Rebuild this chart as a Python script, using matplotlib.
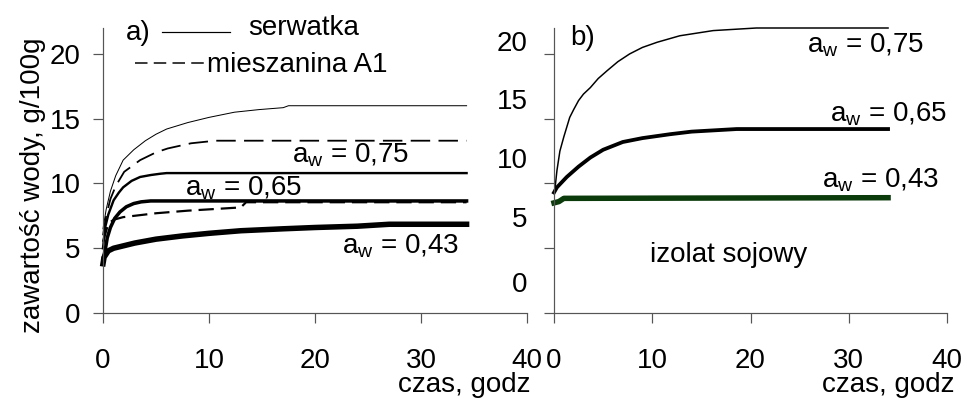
import matplotlib
matplotlib.use('Agg')
import matplotlib.pyplot as plt
from matplotlib.lines import Line2D

plt.rcParams['font.family'] = ['Liberation Sans', 'DejaVu Sans']
plt.rcParams['mathtext.fontset'] = 'custom'
plt.rcParams['mathtext.rm'] = 'Liberation Sans'
plt.rcParams['mathtext.it'] = 'Liberation Sans:italic'
plt.rcParams['lines.scale_dashes'] = False

# ---------------- data (panel a) ----------------
t_whey_075 = [0, 0.3, 0.7, 1.2, 1.9, 2.9, 4, 5, 6, 8, 10, 12.4, 14.7, 17, 17.5, 34.3]
v_whey_075 = [6.5, 8.0, 9.4, 10.6, 11.8, 12.6, 13.3, 13.8, 14.2, 14.7, 15.1, 15.5, 15.7, 15.85, 16.0, 16.0]

t_a1_075 = [0, 0.3, 0.7, 1.2, 2, 3.5, 5, 6.1, 8.3, 10.6, 34.3]
v_a1_075 = [6.0, 7.5, 8.8, 9.8, 10.9, 11.8, 12.4, 12.7, 13.1, 13.3, 13.3]

t_whey_065 = [0, 0.2, 0.5, 1, 1.5, 1.9, 2.7, 3.5, 4.5, 5.4, 6, 34.3]
v_whey_065 = [5.0, 6.6, 7.6, 8.7, 9.3, 9.7, 10.2, 10.5, 10.65, 10.75, 10.8, 10.8]

t_whey_043 = [0, 0.2, 0.4, 0.7, 1.1, 1.6, 2.2, 2.9, 3.6, 4.5, 34.3]
v_whey_043 = [4.2, 4.8, 5.8, 6.6, 7.3, 7.8, 8.2, 8.45, 8.58, 8.65, 8.65]

t_a1_065 = [0, 0.5, 1.0, 1.9, 5, 8, 13, 13.5, 34.3]
v_a1_065 = [5.5, 6.9, 7.2, 7.4, 7.7, 7.9, 8.15, 8.55, 8.55]

t_a1_043 = [0, 0.1, 0.5, 1, 2, 3, 5, 7.5, 10, 13, 17, 20, 24, 27, 34.3]
v_a1_043 = [3.8, 4.3, 4.8, 5.0, 5.2, 5.4, 5.7, 5.95, 6.15, 6.35, 6.5, 6.6, 6.7, 6.85, 6.85]

# ---------------- data (panel b) ----------------
t_soy_075 = [0, 0.1, 0.3, 0.6, 1.0, 1.6, 2.0, 2.5, 3.0, 3.7, 4.5, 5.4, 6.5, 7.7, 9.0,
             10.5, 12.8, 16.2, 20.6, 34.0]
v_soy_075 = [9.3, 9.6, 11.0, 12.5, 13.6, 15.1, 15.7, 16.4, 16.9, 17.4, 18.1, 18.7, 19.4,
             20.0, 20.5, 20.9, 21.4, 21.8, 22.0, 22.0]

t_soy_065 = [0, 0.3, 0.8, 1.3, 1.9, 2.5, 3.7, 5, 6, 7, 9, 11.8, 14, 18.6, 34.0]
v_soy_065 = [9.3, 9.7, 10.1, 10.5, 10.9, 11.3, 12.0, 12.6, 12.9, 13.2, 13.5, 13.8, 14.0, 14.2, 14.2]

t_soy_043 = [0, 0.5, 1, 34.0]
v_soy_043 = [8.5, 8.6, 8.85, 8.9]

x_ticks = [0, 10, 20, 30, 40]
y_ticks = [0, 5, 10, 15, 20]
y_labels = ['0', '5', '10', '15', '20']
# panel b: tick labels drawn displaced from tick marks, as in the original
y_label_pos_b = [2.4, 7.4, 12.0, 16.5, 21.0]

# ---------------- figure ----------------
W, H = 964, 399
fig = plt.figure(figsize=(W / 100, H / 100), dpi=100)
ax1 = fig.add_axes([103 / W, 1 - 313 / H, (527 - 103) / W, 285 / H])
ax2 = fig.add_axes([554 / W, 1 - 313 / H, (947 - 554) / W, 285 / H])

px = 0.72
axcol = '#555555'
for ax in (ax1, ax2):
    ax.set_xlim(0, 40)
    ax.set_ylim(0, 22)
    for s in ('top', 'right'):
        ax.spines[s].set_visible(False)
    for s in ('left', 'bottom'):
        ax.spines[s].set_color(axcol)
        ax.spines[s].set_linewidth(1.2 * px)
    ax.set_xticks(x_ticks)
    ax.set_xticklabels([str(v) for v in x_ticks])
    ax.tick_params(axis='x', direction='out', length=10 * px, width=1.2 * px,
                   color=axcol, labelsize=20, pad=18)
    ax.patch.set_alpha(0)

ax1.set_yticks(y_ticks)
ax1.set_yticklabels(y_labels)
ax1.tick_params(axis='y', direction='out', length=10 * px, width=1.2 * px,
                color=axcol, labelsize=20, pad=9)

ax2.set_yticks(y_ticks)
ax2.set_yticklabels([''] * len(y_ticks))
ax2.tick_params(axis='y', which='major', direction='out', length=10 * px,
                width=1.2 * px, color=axcol)
ax2.set_yticks(y_label_pos_b, minor=True)
ax2.set_yticklabels(y_labels, minor=True)
ax2.tick_params(axis='y', which='minor', length=0, labelsize=20, pad=19)

# panel a curves
ax1.plot(t_whey_075, v_whey_075, color='black', lw=1.0 * px, clip_on=False)
ax1.plot(t_a1_075, v_a1_075, color='black', lw=1.8 * px, dashes=(14, 6), clip_on=False)
ax1.plot(t_whey_065, v_whey_065, color='black', lw=2.4 * px, clip_on=False)
ax1.plot(t_whey_043, v_whey_043, color='black', lw=3.5 * px, clip_on=False)
ax1.plot(t_a1_065, v_a1_065, color='black', lw=2.2 * px, dashes=(11, 5), clip_on=False)
ax1.plot(t_a1_043, v_a1_043, color='black', lw=5.5 * px, clip_on=False)

# panel b curves
ax2.plot(t_soy_075, v_soy_075, color='black', lw=1.5 * px, clip_on=False)
ax2.plot(t_soy_065, v_soy_065, color='black', lw=3.8 * px, clip_on=False)
ax2.plot(t_soy_043, v_soy_043, color='#0b3b0b', lw=5.5 * px, clip_on=False)

fs = 20
aw = 'a$_{\\mathrm{w}}$ = '
ax1.text(17.8, 11.6, aw + '0,75', fontsize=fs, ha='left', va='baseline')
ax1.text(7.7, 9.1, aw + '0,65', fontsize=fs, ha='left', va='baseline')
ax1.text(22.5, 4.6, aw + '0,43', fontsize=fs, ha='left', va='baseline')

ax2.text(25.7, 20.1, aw + '0,75', fontsize=fs, ha='left', va='baseline')
ax2.text(28.1, 14.75, aw + '0,65', fontsize=fs, ha='left', va='baseline')
ax2.text(27.3, 9.65, aw + '0,43', fontsize=fs, ha='left', va='baseline')
ax2.text(9.8, 3.9, 'izolat sojowy', fontsize=fs, ha='left', va='baseline')

# panel headers and legend keys
fig.text(126 / W, 1 - 40 / H, 'a)', fontsize=fs, ha='left', va='baseline')
fig.text(570 / W, 1 - 45 / H, 'b)', fontsize=fs, ha='left', va='baseline')
fig.add_artist(Line2D([162 / W, 230 / W], [1 - 32 / H, 1 - 32 / H],
                      transform=fig.transFigure, color='black', lw=1.2 * px))
fig.text(248 / W, 1 - 35 / H, 'serwatka', fontsize=fs, ha='left', va='baseline')
fig.add_artist(Line2D([135 / W, 205 / W], [1 - 63 / H, 1 - 63 / H],
                      transform=fig.transFigure, color='black', lw=1.5 * px,
                      dashes=(9, 4.5)))
fig.text(207 / W, 1 - 72 / H, 'mieszanina A1', fontsize=fs, ha='left', va='baseline')

# axis titles
fig.text(33 / W, 1 - 185 / H, 'zawartość wody, g/100g', fontsize=fs,
         rotation=90, ha='center', va='center')
fig.text(530 / W, 1 - 392 / H, 'czas, godz', fontsize=fs, ha='right', va='baseline')
fig.text(955 / W, 1 - 392 / H, 'czas, godz', fontsize=fs, ha='right', va='baseline')

fig.savefig('out.png', dpi=100)
